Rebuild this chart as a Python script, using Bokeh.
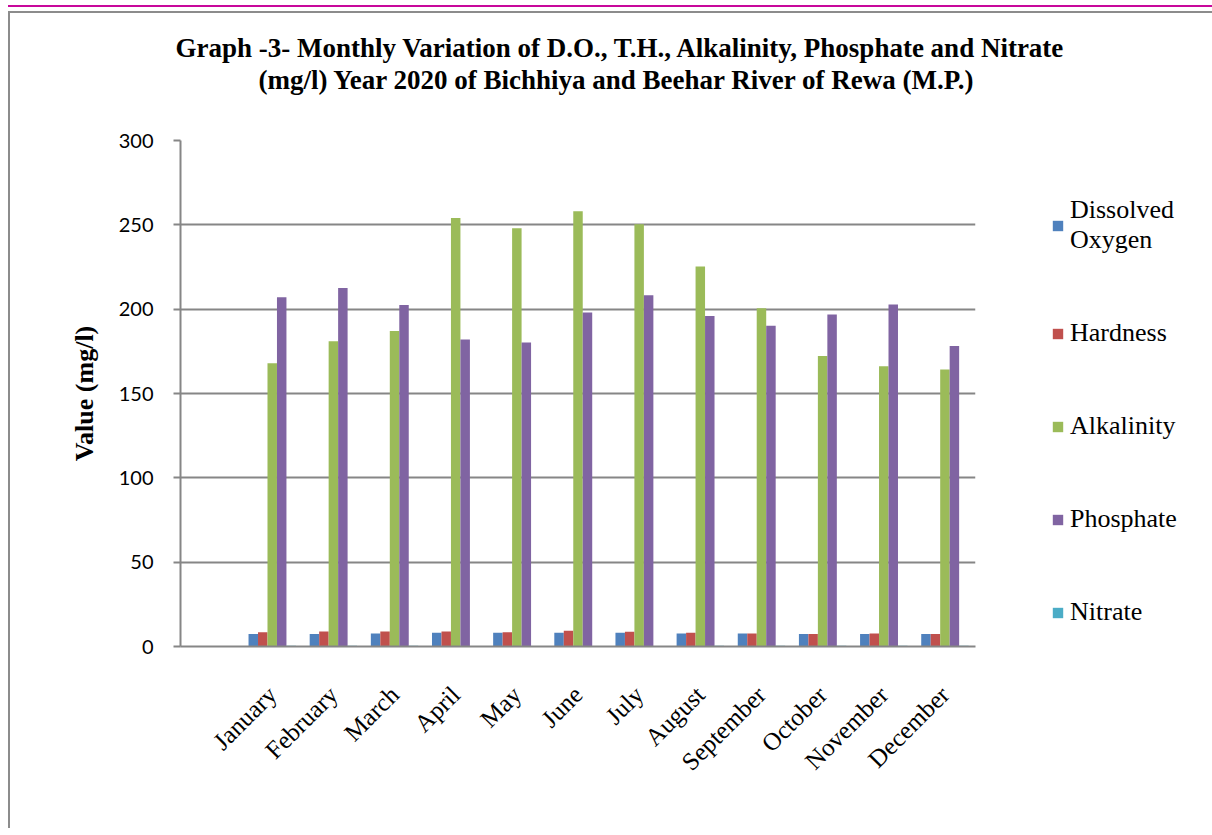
import math
from bokeh.plotting import figure
from bokeh.models import (ColumnDataSource, FactorRange, Legend, LegendItem, Title,
                          FixedTicker)
from bokeh.transform import dodge
from bokeh.embed import file_html
from bokeh.resources import INLINE

months = ["January", "February", "March", "April", "May", "June", "July",
          "August", "September", "October", "November", "December"]
dissolved_oxygen = [7.4, 7.4, 7.7, 8.1, 8.1, 8.1, 8.1, 7.7, 7.7, 7.4, 7.4, 7.4]
hardness = [8.5, 8.9, 8.9, 8.9, 8.5, 9.3, 8.7, 8.1, 7.7, 7.4, 7.7, 7.4]
alkalinity = [168.0, 181.0, 187.0, 254.1, 248.0, 258.1, 250.4, 225.3, 200.6, 172.3, 166.2, 164.2]
phosphate = [207.1, 212.5, 202.5, 182.0, 180.2, 198.0, 208.3, 196.0, 190.1, 196.8, 202.7, 178.1]
nitrate = [0.4, 0.5, 0.4, 0.3, 0.3, 0.2, 0.3, 0.4, 0.4, 0.5, 0.4, 0.4]

series_labels = ["Dissolved\nOxygen", "Hardness", "Alkalinity", "Phosphate", "Nitrate"]
series_keys = ["do", "th", "alk", "po4", "no3"]
colors = ["#4F81BD", "#C0504D", "#9BBB59", "#8064A2", "#4BACC6"]
y_ticks = [0, 50, 100, 150, 200, 250, 300]

title_line1 = "Graph -3- Monthly Variation of D.O., T.H., Alkalinity, Phosphate and Nitrate"
title_line2 = "(mg/l) Year 2020  of Bichhiya and Beehar River of Rewa (M.P.)"

source = ColumnDataSource(dict(month=months, do=dissolved_oxygen, th=hardness,
                               alk=alkalinity, po4=phosphate, no3=nitrate))

p = figure(x_range=FactorRange(*([" "] + months), range_padding=0),
           y_range=(0, 300), frame_width=795, frame_height=506,
           output_backend="svg", toolbar_location=None,
           min_border_left=170, min_border_right=235,
           min_border_top=127, min_border_bottom=182)
p.styles = {"margin-left": "8px", "margin-top": "11px",
            "border-left": "2px solid #8c8c8c", "border-top": "2px solid #8c8c8c",
            "box-shadow": "0 -4px 0 0 #ffffff, 0 -6px 0 0 #c8089b"}

GRAY = "#868686"
p.outline_line_color = None
p.xgrid.grid_line_color = None
p.ygrid.grid_line_color = GRAY
p.ygrid.grid_line_width = 2
p.ygrid.ticker = FixedTicker(ticks=y_ticks)

bar_w = 0.155
renderers = []
for i, (k, c) in enumerate(zip(series_keys, colors)):
    r = p.vbar(x=dodge("month", (i - 2) * bar_w, range=p.x_range), top=k,
               width=bar_w, source=source, fill_color=c, line_color=None)
    renderers.append(r)

legend = Legend(items=[LegendItem(label=l, renderers=[r]) for l, r in zip(series_labels, renderers)],
                location=(76, 19), padding=0, margin=0, spacing=63,
                label_standoff=6, glyph_width=13, glyph_height=13,
                label_text_font="Liberation Serif", label_text_font_size="26px",
                label_text_color="black", border_line_alpha=0,
                background_fill_alpha=0)
p.add_layout(legend, "right")

# two-line title: line 2 sits on a spacer just above the frame, line 1 on top
title_style = dict(text_font="Liberation Serif", text_font_style="bold",
                   text_font_size="27px", text_color="black", align="left")
p.add_layout(Title(text=" ", text_font_size="1px", standoff=43), "above")
p.add_layout(Title(text=title_line2, offset=78, standoff=0, **title_style), "above")
p.title.text = title_line1
p.title.offset = -5
p.title.standoff = 0
for k, v in title_style.items():
    setattr(p.title, k, v)

# y axis
p.yaxis.ticker = FixedTicker(ticks=y_ticks)
p.yaxis.axis_line_color = GRAY
p.yaxis.axis_line_width = 2
p.yaxis.major_tick_line_color = GRAY
p.yaxis.major_tick_line_width = 2
p.yaxis.major_tick_out = 7
p.yaxis.major_tick_in = 0
p.yaxis.minor_tick_line_color = None
p.yaxis.major_label_text_font = "Lato"
p.yaxis.major_label_text_font_size = "20px"
p.yaxis.major_label_text_color = "black"
p.yaxis.major_label_standoff = 20
p.yaxis.axis_label = "Value (mg/l)"
p.yaxis.axis_label_text_font = "Liberation Serif"
p.yaxis.axis_label_text_font_style = "bold"
p.yaxis.axis_label_text_font_size = "26px"
p.yaxis.axis_label_text_color = "black"
p.yaxis.axis_label_standoff = 17

# x axis
p.xaxis.axis_line_color = GRAY
p.xaxis.axis_line_width = 2
p.xaxis.major_tick_line_color = None
p.xaxis.minor_tick_line_color = None
p.xaxis.major_label_orientation = math.pi / 4
p.xaxis.major_label_text_font = "Liberation Serif"
p.xaxis.major_label_text_font_size = "25px"
p.xaxis.major_label_text_color = "black"
p.xaxis.major_label_standoff = 38

open("out.html", "w").write(file_html(p, INLINE))
